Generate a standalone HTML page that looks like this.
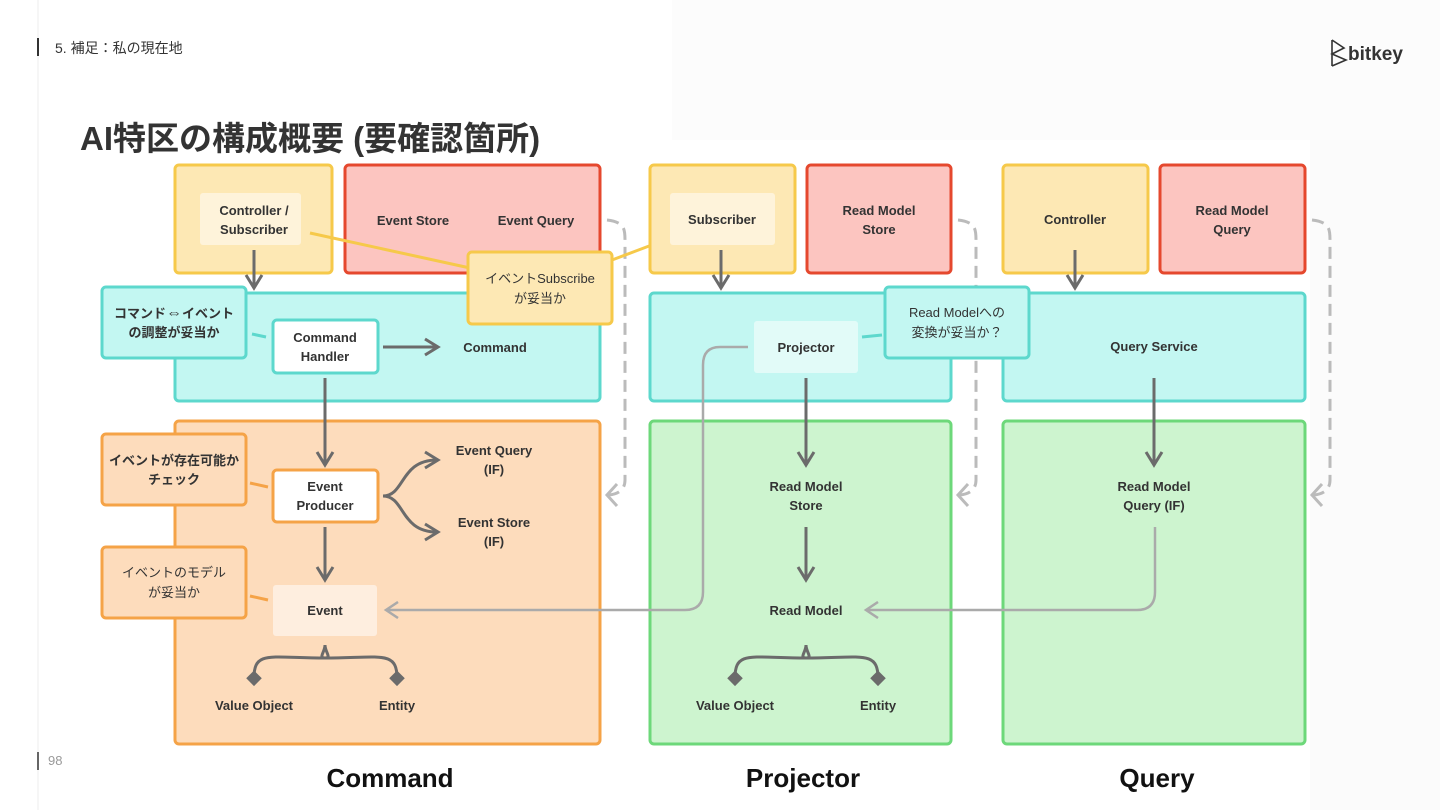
<!DOCTYPE html>
<html><head><meta charset="utf-8"><style>
html,body{margin:0;padding:0;background:#fff;}
svg{display:block;font-family:"Liberation Sans","Noto Sans CJK JP",sans-serif;}
.l{font-size:13px;font-weight:bold;fill:#333;text-anchor:middle;}
.c{font-size:13px;fill:#333;text-anchor:middle;}
</style></head><body>
<svg width="1440" height="810" viewBox="0 0 1440 810">
<defs>
<marker id="a" markerWidth="20" markerHeight="20" refX="15" refY="10" orient="auto" markerUnits="userSpaceOnUse"><path d="M3,2 L16,10 L3,18" fill="none" stroke="#6b6b6b" stroke-width="3"/></marker>
<marker id="b" markerWidth="16" markerHeight="18" refX="12" refY="9" orient="auto" markerUnits="userSpaceOnUse"><path d="M1,1 L13,9 L1,17" fill="none" stroke="#aaa" stroke-width="2.5"/></marker>
</defs>
<rect x="672" y="0" width="768" height="140" fill="#fcfcfc"/>
<rect x="1310" y="140" width="130" height="670" fill="#fbfbfb"/>
<line x1="38" y1="0" x2="38" y2="810" stroke="#eee" stroke-width="1"/>
<rect x="37" y="38" width="2" height="18" fill="#333"/>
<text x="55" y="53" font-size="14" fill="#333">5. 補足：私の現在地</text>
<rect x="37" y="752" width="2" height="18" fill="#666"/>
<text x="48" y="765" font-size="13" fill="#999">98</text>
<text x="80" y="150" font-size="33" font-weight="bold" fill="#333">AI特区の構成概要 (要確認箇所)</text>
<g stroke="#333" stroke-width="1.6" fill="none"><path d="M1332,40 L1332,66 M1332,40 L1344,48 L1332,54 L1346,60 L1332,66"/></g>
<text x="1348" y="60" font-size="19" font-weight="bold" fill="#333">bitkey</text>

<!-- COMMAND column -->
<rect x="175" y="165" width="157" height="108" rx="4" fill="#fde8b4" stroke="#f6c94a" stroke-width="3"/>
<rect x="200" y="193" width="101" height="52" rx="3" fill="#fef3da"/>
<text class="l" x="254" y="215">Controller /</text><text class="l" x="254" y="234">Subscriber</text>
<rect x="345" y="165" width="255" height="108" rx="4" fill="#fcc5c0" stroke="#e5482e" stroke-width="3"/>
<text class="l" x="413" y="225">Event Store</text><text class="l" x="536" y="225">Event Query</text>
<rect x="175" y="293" width="425" height="108" rx="4" fill="#c3f7f2" stroke="#5dd8cd" stroke-width="3"/>
<rect x="273" y="320" width="105" height="53" rx="4" fill="#fff" stroke="#5dd8cd" stroke-width="3"/>
<text class="l" x="325" y="342">Command</text><text class="l" x="325" y="361">Handler</text>
<text class="l" x="495" y="352">Command</text>
<rect x="175" y="421" width="425" height="323" rx="4" fill="#fddcbc" stroke="#f5a347" stroke-width="3"/>
<rect x="273" y="470" width="105" height="52" rx="4" fill="#fff" stroke="#f5a347" stroke-width="3"/>
<text class="l" x="325" y="491">Event</text><text class="l" x="325" y="510">Producer</text>
<text class="l" x="494" y="455">Event Query</text><text class="l" x="494" y="474">(IF)</text>
<text class="l" x="494" y="527">Event Store</text><text class="l" x="494" y="546">(IF)</text>
<rect x="273" y="585" width="104" height="51" rx="3" fill="#feeedf"/>
<text class="l" x="325" y="615">Event</text>
<text class="l" x="254" y="710">Value Object</text><text class="l" x="397" y="710">Entity</text>
<g stroke="#6b6b6b" stroke-width="3" fill="none">
<line x1="254" y1="250" x2="254" y2="287" marker-end="url(#a)"/>
<line x1="383" y1="347" x2="437" y2="347" marker-end="url(#a)"/>
<line x1="325" y1="378" x2="325" y2="464" marker-end="url(#a)"/>
<path d="M383,496 C405,496 400,460 437,460" marker-end="url(#a)"/>
<path d="M383,496 C405,496 400,532 437,532" marker-end="url(#a)"/>
<line x1="325" y1="527" x2="325" y2="579" marker-end="url(#a)"/>
<path d="M254,678 C254,650 270,658 325,658 C318,658 325,652 325,645 M325,645 C325,652 332,658 325,658 C380,658 397,650 397,678"/>
</g>
<rect x="248" y="673" width="11" height="11" fill="#6b6b6b" transform="rotate(45 254 679)"/>
<rect x="391" y="673" width="11" height="11" fill="#6b6b6b" transform="rotate(45 397 679)"/>
<path d="M607,220 C625,222 625,230 625,240 L625,480 C625,490 618,494 609,495" fill="none" stroke="#bbb" stroke-width="3" stroke-dasharray="12,7"/>
<path d="M617,484 L607,495 L617,506" fill="none" stroke="#bbb" stroke-width="3"/>

<line x1="310" y1="233" x2="470" y2="268" stroke="#f6c94a" stroke-width="3"/>
<line x1="612" y1="260" x2="665" y2="240" stroke="#f6c94a" stroke-width="3"/>
<line x1="252" y1="334" x2="266" y2="337" stroke="#5dd8cd" stroke-width="3"/>
<rect x="102" y="287" width="144" height="71" rx="4" fill="#c3f7f2" stroke="#5dd8cd" stroke-width="3"/>
<text class="l" x="174" y="318">コマンド<tspan font-size="16">⇔</tspan>イベント</text><text class="l" x="174" y="337">の調整が妥当か</text>
<line x1="250" y1="483" x2="268" y2="487" stroke="#f5a347" stroke-width="3"/>
<rect x="102" y="434" width="144" height="71" rx="4" fill="#fddcbc" stroke="#f5a347" stroke-width="3"/>
<text class="l" x="174" y="465">イベントが存在可能か</text><text class="l" x="174" y="484">チェック</text>
<line x1="250" y1="596" x2="268" y2="600" stroke="#f5a347" stroke-width="3"/>
<rect x="102" y="547" width="144" height="71" rx="4" fill="#fddcbc" stroke="#f5a347" stroke-width="3"/>
<text class="c" x="174" y="577">イベントのモデル</text><text class="c" x="174" y="597">が妥当か</text>

<!-- PROJECTOR column -->
<rect x="650" y="165" width="145" height="108" rx="4" fill="#fde8b4" stroke="#f6c94a" stroke-width="3"/>
<rect x="670" y="193" width="105" height="52" rx="3" fill="#fef3da"/>
<text class="l" x="722" y="224">Subscriber</text>
<rect x="807" y="165" width="144" height="108" rx="4" fill="#fcc5c0" stroke="#e5482e" stroke-width="3"/>
<text class="l" x="879" y="215">Read Model</text><text class="l" x="879" y="234">Store</text>
<rect x="650" y="293" width="301" height="108" rx="4" fill="#c3f7f2" stroke="#5dd8cd" stroke-width="3"/>
<rect x="754" y="321" width="104" height="52" rx="3" fill="#e2fbf8"/>
<text class="l" x="806" y="352">Projector</text>
<rect x="650" y="421" width="301" height="323" rx="4" fill="#cdf4cf" stroke="#6dd87a" stroke-width="3"/>
<text class="l" x="806" y="491">Read Model</text><text class="l" x="806" y="510">Store</text>
<text class="l" x="806" y="615">Read Model</text>
<text class="l" x="735" y="710">Value Object</text><text class="l" x="878" y="710">Entity</text>
<g stroke="#6b6b6b" stroke-width="3" fill="none">
<line x1="721" y1="250" x2="721" y2="287" marker-end="url(#a)"/>
<line x1="806" y1="378" x2="806" y2="464" marker-end="url(#a)"/>
<line x1="806" y1="527" x2="806" y2="579" marker-end="url(#a)"/>
<path d="M735,678 C735,650 751,658 806,658 C799,658 806,652 806,645 M806,645 C806,652 813,658 806,658 C861,658 878,650 878,678"/>
</g>
<rect x="729" y="673" width="11" height="11" fill="#6b6b6b" transform="rotate(45 735 679)"/>
<rect x="872" y="673" width="11" height="11" fill="#6b6b6b" transform="rotate(45 878 679)"/>
<path d="M748,347 L720,347 Q703,347 703,365 L703,592 Q703,610 685,610 L387,610" fill="none" stroke="#aaa" stroke-width="2.5" marker-end="url(#b)"/>
<path d="M958,220 C976,222 976,230 976,240 L976,480 C976,490 969,494 960,495" fill="none" stroke="#bbb" stroke-width="3" stroke-dasharray="12,7"/>
<path d="M968,484 L958,495 L968,506" fill="none" stroke="#bbb" stroke-width="3"/>

<!-- QUERY column -->
<rect x="1003" y="165" width="145" height="108" rx="4" fill="#fde8b4" stroke="#f6c94a" stroke-width="3"/>
<text class="l" x="1075" y="224">Controller</text>
<rect x="1160" y="165" width="145" height="108" rx="4" fill="#fcc5c0" stroke="#e5482e" stroke-width="3"/>
<text class="l" x="1232" y="215">Read Model</text><text class="l" x="1232" y="234">Query</text>
<rect x="1003" y="293" width="302" height="108" rx="4" fill="#c3f7f2" stroke="#5dd8cd" stroke-width="3"/>
<text class="l" x="1154" y="351">Query Service</text>
<rect x="1003" y="421" width="302" height="323" rx="4" fill="#cdf4cf" stroke="#6dd87a" stroke-width="3"/>
<text class="l" x="1154" y="491">Read Model</text><text class="l" x="1154" y="510">Query (IF)</text>
<g stroke="#6b6b6b" stroke-width="3" fill="none">
<line x1="1075" y1="250" x2="1075" y2="287" marker-end="url(#a)"/>
<line x1="1154" y1="378" x2="1154" y2="464" marker-end="url(#a)"/>
</g>
<path d="M1155,527 L1155,592 Q1155,610 1137,610 L867,610" fill="none" stroke="#aaa" stroke-width="2.5" marker-end="url(#b)"/>
<path d="M1312,220 C1330,222 1330,230 1330,240 L1330,480 C1330,490 1323,494 1314,495" fill="none" stroke="#bbb" stroke-width="3" stroke-dasharray="12,7"/>
<path d="M1322,484 L1312,495 L1322,506" fill="none" stroke="#bbb" stroke-width="3"/>

<!-- callouts on top -->
<rect x="468" y="252" width="144" height="72" rx="4" fill="#fde8b4" stroke="#f6c94a" stroke-width="3"/>
<text class="c" x="540" y="283">イベントSubscribe</text><text class="c" x="540" y="303">が妥当か</text>
<line x1="862" y1="337" x2="882" y2="335" stroke="#5dd8cd" stroke-width="3"/>
<rect x="885" y="287" width="144" height="71" rx="4" fill="#c3f7f2" stroke="#5dd8cd" stroke-width="3"/>
<text class="c" x="957" y="317">Read Modelへの</text><text class="c" x="957" y="337">変換が妥当か？</text>

<text x="390" y="787" font-size="26" font-weight="bold" fill="#111" text-anchor="middle">Command</text>
<text x="803" y="787" font-size="26" font-weight="bold" fill="#111" text-anchor="middle">Projector</text>
<text x="1157" y="787" font-size="26" font-weight="bold" fill="#111" text-anchor="middle">Query</text>
</svg>
</body></html>
